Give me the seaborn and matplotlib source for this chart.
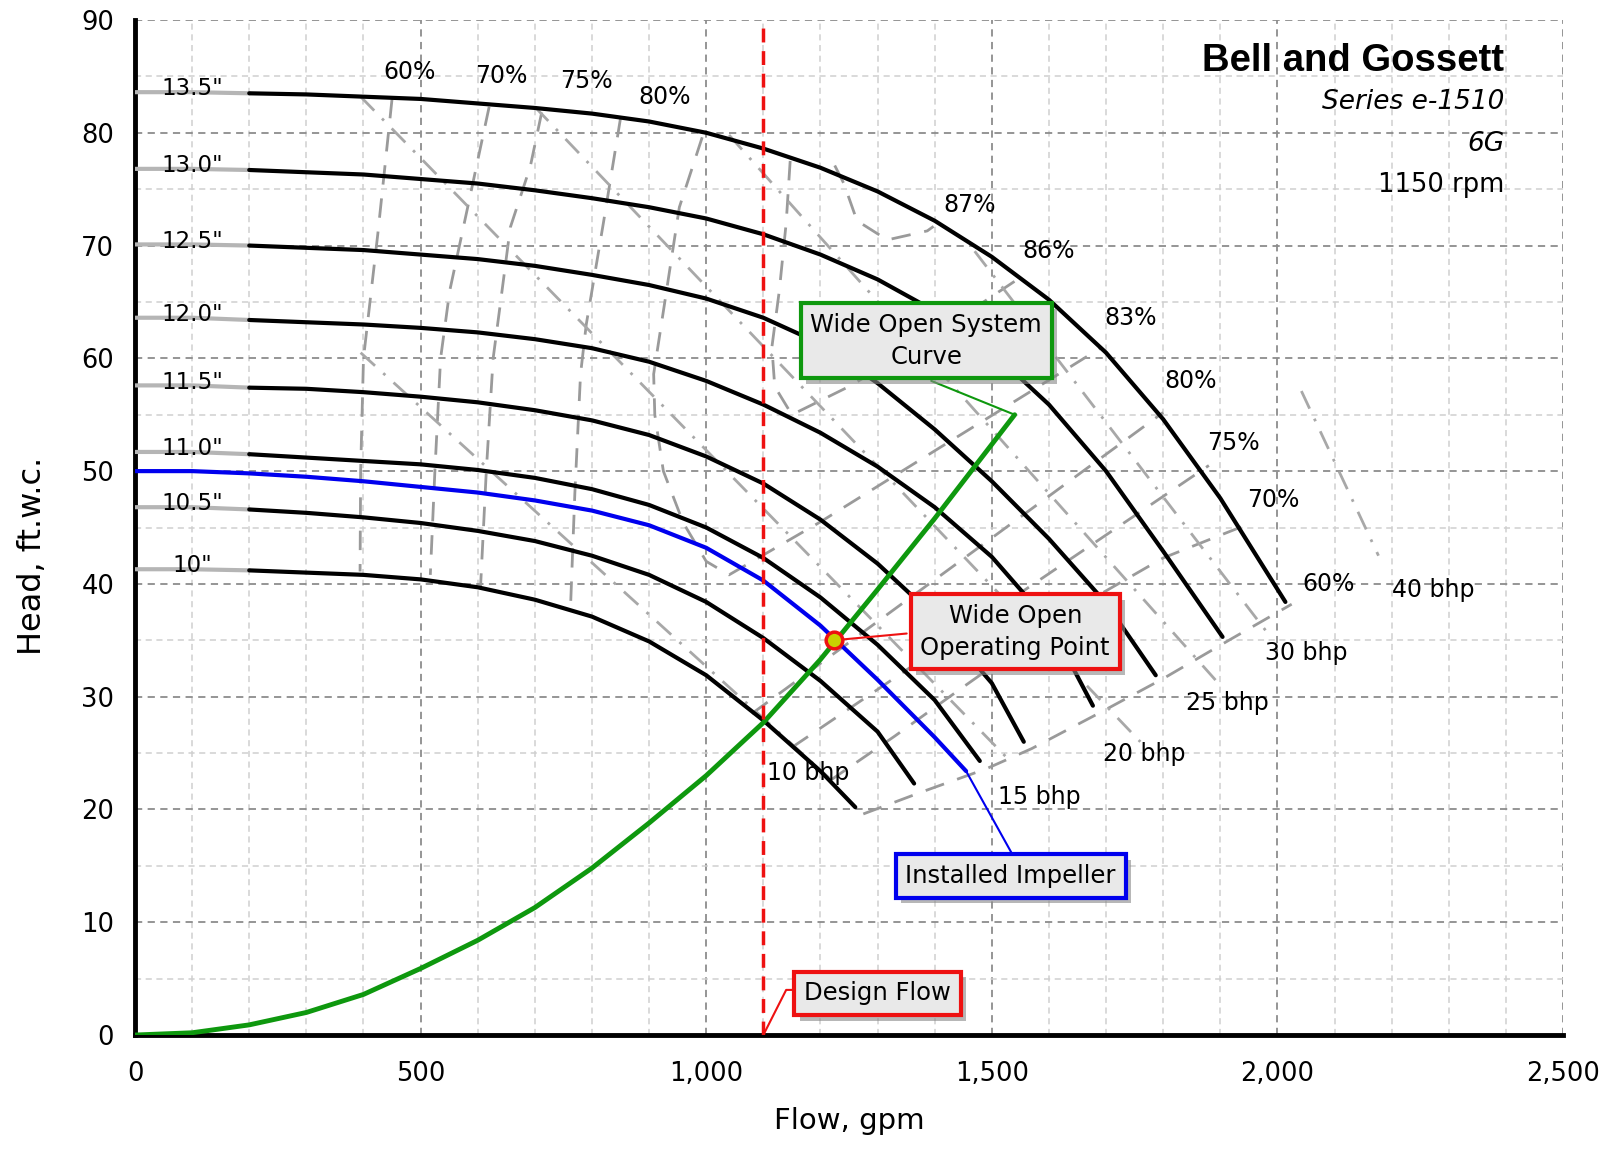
import matplotlib
matplotlib.use("Agg")
import matplotlib.pyplot as plt
import matplotlib.patheffects as pe
from matplotlib.ticker import MultipleLocator, FuncFormatter
import seaborn as sns

# impeller curves, flow (gpm) / head (ft)
q_135 = [0, 100, 200, 300, 400, 500, 600, 700, 800, 900, 1000, 1100, 1200, 1300, 1400, 1500, 1600, 1700, 1800, 1900, 2014]
h_135 = [83.6, 83.6, 83.5, 83.4, 83.2, 83.0, 82.6, 82.2, 81.7, 81.0, 80.0, 78.6, 76.9, 74.8, 72.2, 69.0, 65.2, 60.5, 54.6, 47.6, 38.4]
q_130 = [0, 100, 200, 300, 400, 500, 600, 700, 800, 900, 1000, 1100, 1200, 1300, 1400, 1500, 1600, 1700, 1800, 1904]
h_130 = [76.8, 76.8, 76.7, 76.5, 76.3, 75.9, 75.5, 74.9, 74.2, 73.4, 72.4, 71.0, 69.2, 67.0, 64.2, 60.6, 55.9, 50.0, 42.9, 35.3]
q_125 = [0, 100, 200, 300, 400, 500, 600, 700, 800, 900, 1000, 1100, 1200, 1300, 1400, 1500, 1600, 1700, 1787]
h_125 = [70.1, 70.1, 70.0, 69.8, 69.6, 69.2, 68.8, 68.2, 67.4, 66.5, 65.3, 63.6, 61.3, 57.8, 53.7, 49.1, 44.0, 38.3, 31.9]
q_120 = [0, 100, 200, 300, 400, 500, 600, 700, 800, 900, 1000, 1100, 1200, 1300, 1400, 1500, 1600, 1677]
h_120 = [63.6, 63.6, 63.4, 63.2, 63.0, 62.7, 62.3, 61.7, 60.9, 59.7, 58.0, 55.9, 53.4, 50.4, 46.8, 42.4, 36.6, 29.2]
q_115 = [0, 100, 200, 300, 400, 500, 600, 700, 800, 900, 1000, 1100, 1200, 1300, 1400, 1500, 1556]
h_115 = [57.6, 57.6, 57.4, 57.3, 57.0, 56.6, 56.1, 55.4, 54.5, 53.2, 51.3, 48.9, 45.7, 41.8, 37.1, 31.2, 26.0]
q_110 = [0, 100, 200, 300, 400, 500, 600, 700, 800, 900, 1000, 1100, 1200, 1300, 1400, 1479]
h_110 = [51.7, 51.7, 51.5, 51.2, 50.9, 50.6, 50.1, 49.4, 48.4, 47.0, 45.0, 42.3, 38.8, 34.6, 29.7, 24.3]
q_105 = [0, 100, 200, 300, 400, 500, 600, 700, 800, 900, 1000, 1100, 1200, 1300, 1364]
h_105 = [46.8, 46.8, 46.6, 46.3, 45.9, 45.4, 44.7, 43.8, 42.5, 40.8, 38.4, 35.2, 31.4, 26.9, 22.3]
q_100 = [0, 100, 200, 300, 400, 500, 600, 700, 800, 900, 1000, 1100, 1200, 1261]
h_100 = [41.3, 41.3, 41.2, 41.0, 40.8, 40.4, 39.7, 38.6, 37.1, 34.9, 31.9, 27.9, 23.4, 20.2]
dia_labels = ['13.5"', '13.0"', '12.5"', '12.0"', '11.5"', '11.0"', '10.5"', '10"']

# installed impeller (blue)
q_inst = [0, 100, 200, 300, 400, 500, 600, 700, 800, 900, 1000, 1100, 1200, 1300, 1400, 1455]
h_inst = [50.0, 50.0, 49.8, 49.5, 49.1, 48.6, 48.1, 47.4, 46.5, 45.2, 43.2, 40.3, 36.3, 31.5, 26.4, 23.4]

# wide open system curve
q_sys = [0, 100, 200, 300, 400, 500, 600, 700, 800, 900, 1000, 1100, 1200, 1300, 1400, 1540]
h_sys = [0, 0.2, 0.9, 2.0, 3.6, 5.9, 8.4, 11.3, 14.8, 18.8, 23.0, 27.7, 33.3, 39.5, 45.8, 55.0]

design_flow = 1100
op_q, op_h = 1223, 35.0

# efficiency contours, left branches
e60_lq = [450, 425, 400, 395, 394]
e60_lh = [83.0, 71.0, 60.0, 50.0, 41.1]
e70_lq = [620, 585, 551, 535, 525, 517]
e70_lh = [82.3, 74.0, 66.0, 60.0, 50.0, 40.8]
e75_lq = [712, 692, 657, 640, 627, 615, 605]
e75_lh = [81.8, 77.0, 71.6, 65.0, 60.0, 50.0, 39.8]
e80_lq = [850, 820, 790, 780, 770, 762]
e80_lh = [81.3, 72.0, 63.0, 58.6, 48.0, 37.3]
e83_q = [993, 953, 926, 908, 910, 925, 960, 1000, 1040, 1200, 1400, 1550, 1690]
e83_h = [79.6, 73.4, 64.5, 58.6, 55.0, 50.0, 45.4, 42.0, 40.8, 45.5, 51.8, 56.5, 60.9]
e86_q = [1147, 1140, 1128, 1115, 1120, 1150, 1250, 1350, 1450, 1545]
e86_h = [77.5, 72.0, 66.0, 61.0, 57.5, 55.0, 57.5, 60.5, 63.8, 67.0]
e87_q = [1225, 1241, 1264, 1317, 1387, 1398]
e87_h = [77.1, 75.5, 72.2, 70.5, 71.3, 71.7]

# efficiency contours, right branches
e60_rq = [1275, 1380, 1490, 1570, 1690, 1800, 1915, 2025]
e60_rh = [19.6, 21.6, 23.6, 25.4, 28.6, 31.6, 35.0, 38.2]
e70_rq = [1215, 1330, 1440, 1560, 1680, 1800, 1944]
e70_rh = [22.5, 26.5, 30.5, 34.8, 38.8, 42.3, 45.2]
e75_rq = [1150, 1880]
e75_rh = [25.5, 50.5]
e80_rq = [1080, 1800]
e80_rh = [28.5, 55.2]

eff_labels = ['60%', '70%', '75%', '80%']
eff_label_q = [481, 641, 791, 928]
eff_label_h = [85.4, 85.0, 84.6, 83.2]
eff_r_labels = ['87%', '86%', '83%', '80%', '75%', '70%', '60%']
eff_r_q = [1462, 1599, 1743, 1848, 1923, 1992, 2089]
eff_r_h = [73.6, 69.5, 63.6, 58.0, 52.5, 47.4, 40.0]

# bhp lines (start, end)
bhp_labels = ['10 bhp', '15 bhp', '20 bhp', '25 bhp', '30 bhp', '40 bhp']
bhp_q0 = [395, 395, 700, 1040, 1470, 2042]
bhp_h0 = [60.5, 83.2, 82.3, 79.8, 69.5, 57.1]
bhp_q1 = [1215, 1530, 1760, 1900, 1985, 2177]
bhp_h1 = [22.8, 24.4, 26.0, 31.0, 35.5, 42.5]
bhp_label_q = [1178, 1583, 1767, 1913, 2051, 2273]
bhp_label_h = [23.2, 21.1, 24.9, 29.4, 33.9, 39.5]

sns.set_style("white")
plt.rcParams['font.family'] = ['DejaVu Sans']
plt.rcParams.update({'text.color': 'black', 'axes.labelcolor': 'black',
                     'xtick.color': 'black', 'ytick.color': 'black'})

fig = plt.figure(figsize=(16.13, 11.49), dpi=100)
ax = fig.add_axes([0.0837, 0.0992, 0.8853, 0.8834])

gray_eff = '#9a9a9a'
dash_eff = (0, (7, 5))
dash_bhp = (0, (7, 4, 1, 4))


def line(q, h, **kw):
    sns.lineplot(x=q, y=h, sort=False, estimator=None, ax=ax, legend=False, **kw)


# efficiency and bhp lines
for q, h in [(e60_lq, e60_lh), (e70_lq, e70_lh), (e75_lq, e75_lh), (e80_lq, e80_lh),
             (e83_q, e83_h), (e86_q, e86_h), (e87_q, e87_h),
             (e60_rq, e60_rh), (e70_rq, e70_rh), (e75_rq, e75_rh), (e80_rq, e80_rh)]:
    line(q, h, color=gray_eff, lw=2, linestyle=dash_eff, zorder=2)

for i in range(len(bhp_labels)):
    line([bhp_q0[i], bhp_q1[i]], [bhp_h0[i], bhp_h1[i]], color='#a8a8a8', lw=2,
         linestyle=dash_bhp, zorder=2)
    ax.text(bhp_label_q[i], bhp_label_h[i], bhp_labels[i], ha='center', va='center',
            fontsize=17, zorder=6)

for s, q, h in zip(eff_labels, eff_label_q, eff_label_h):
    ax.text(q, h, s, ha='center', va='center', fontsize=17, zorder=6)
for s, q, h in zip(eff_r_labels, eff_r_q, eff_r_h):
    ax.text(q, h, s, ha='center', va='center', fontsize=17, zorder=6)

# impeller curves
curves = [(q_135, h_135), (q_130, h_130), (q_125, h_125), (q_120, h_120),
          (q_115, h_115), (q_110, h_110), (q_105, h_105), (q_100, h_100)]
for (q, h), lab in zip(curves, dia_labels):
    line(q[:3], h[:3], color='#b5b5b5', lw=3, zorder=3)
    line(q[2:], h[2:], color='black', lw=3, zorder=4)
    ax.text(100, h[0] + 0.3, lab, ha='center', va='center', fontsize=16.5, zorder=6)

line(q_inst, h_inst, color='#0000ee', lw=3, zorder=5)
line(q_sys, h_sys, color='#0e980e', lw=3.5, zorder=5)

# design flow
line([design_flow, design_flow], [0, 90], color='#ee1111', lw=2.5, linestyle=(0, (4, 2.5)), zorder=5)

# leaders
line([1540, 1394], [55.0, 58.0], color='#0e980e', lw=1.5, zorder=5)
line([op_q, 1351], [op_h, 35.6], color='#ee1111', lw=1.5, zorder=5)
line([1455, 1534], [23.4, 16.2], color='#0000ee', lw=1.5, zorder=5)
line([design_flow, 1140, 1162], [0, 4.0, 4.0], color='#ee1111', lw=1.5, zorder=5)

ax.plot([op_q], [op_h], marker='o', ms=12, mfc='#c8d200', mec='#ee1111', mew=2.5, zorder=7)

# call-out boxes
shadow = [pe.SimplePatchShadow(offset=(4, -4), shadow_rgbFace='#888888', alpha=0.6), pe.Normal()]
boxes = [(1385, 61.55, 'Wide Open System\nCurve', '#0e980e'),
         (1541, 35.75, 'Wide Open\nOperating Point', '#ee1111'),
         (1533, 14.1, 'Installed Impeller', '#0000ee'),
         (1300, 3.7, 'Design Flow', '#ee1111')]
for x, y, s, c in boxes:
    t = ax.text(x, y, s, ha='center', va='center', fontsize=17.5, linespacing=1.4, zorder=8,
                bbox=dict(boxstyle='square,pad=0.4', fc='#e9e9e9', ec=c, lw=3))
    t.get_bbox_patch().set_path_effects(shadow)

# title block
ax.text(2397, 86.4, 'Bell and Gossett', ha='right', va='center', fontsize=27.5,
        weight='bold', family='Liberation Sans', zorder=6)
ax.text(2397, 82.7, 'Series e-1510', ha='right', va='center', fontsize=19, style='italic', zorder=6)
ax.text(2397, 79.0, '6G', ha='right', va='center', fontsize=19, style='italic', zorder=6)
ax.text(2397, 75.4, '1150 rpm', ha='right', va='center', fontsize=18.5, zorder=6)

# axes
ax.set_xlim(0, 2500)
ax.set_ylim(0, 90)
ax.xaxis.set_major_locator(MultipleLocator(500))
ax.xaxis.set_minor_locator(MultipleLocator(100))
ax.yaxis.set_major_locator(MultipleLocator(10))
ax.yaxis.set_minor_locator(MultipleLocator(5))
ax.xaxis.set_major_formatter(FuncFormatter(lambda v, p: f'{int(v):,}'))
ax.grid(which='major', color='#8c8c8c', linestyle=(0, (4, 3)), lw=1.3, zorder=0)
ax.grid(which='minor', color='#cfcfcf', linestyle=(0, (4, 3)), lw=1.1, zorder=0)
ax.set_axisbelow(True)
for side in ['top', 'right']:
    ax.spines[side].set_visible(False)
for side in ['left', 'bottom']:
    ax.spines[side].set_linewidth(3.5)
    ax.spines[side].set_color('black')
ax.tick_params(which='both', direction='out', width=3, length=9, color='black', labelsize=18.5)
ax.tick_params(axis='y', pad=6)
ax.tick_params(axis='x', pad=10)
ax.set_xlabel('Flow, gpm', fontsize=21, labelpad=14)
ax.set_ylabel('Head, ft.w.c.', fontsize=23)
ax.yaxis.set_label_coords(-0.0612, 0.472)

fig.savefig('out.png', dpi=100)
